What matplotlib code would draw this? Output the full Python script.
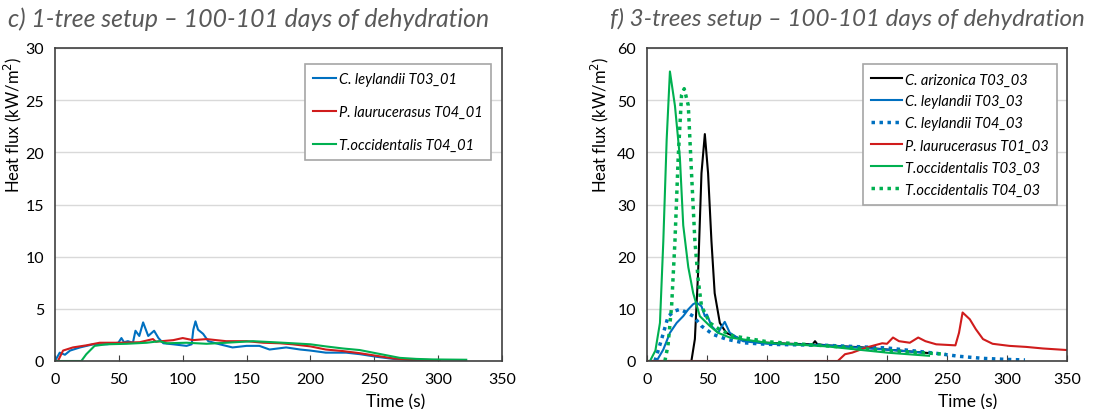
import numpy as np
import matplotlib
matplotlib.use('Agg')
import matplotlib.pyplot as plt

plt.rcParams['font.family'] = ['Lato', 'DejaVu Sans']

BLUE = '#0070c0'
RED = '#d01c1c'
GREEN = '#00b050'
BLACK = '#000000'

# ---- panel c) 1-tree setup
c_ley_t = [0, 3.7, 7.8, 11.8, 19.6, 30, 40.5, 49.6, 52, 54, 57, 61, 63, 66, 69, 73, 77.6, 81, 84.8,
           92.6, 103, 107, 108.3, 110, 112, 116, 120, 129, 139, 150, 160, 168, 181, 192, 200, 212,
           228, 239, 252, 265, 280, 301]
c_ley_v = [0, 0.8, 0.6, 1.0, 1.3, 1.6, 1.6, 1.75, 2.2, 1.8, 1.9, 1.75, 2.9, 2.4, 3.7, 2.4, 2.9, 2.2, 1.7,
           1.6, 1.45, 1.6, 3.0, 3.8, 3.0, 2.6, 1.9, 1.6, 1.3, 1.45, 1.45, 1.1, 1.3, 1.1, 1.0, 0.8,
           0.8, 0.65, 0.4, 0.2, 0.1, 0.06]

c_lau_t = [2.3, 6.3, 14, 24.5, 35, 50.6, 66.3, 76.7, 79, 92.6, 100, 108, 118.6, 134, 150, 163, 176,
           186, 200, 212, 225.5, 238.6, 251.6, 264.8, 278, 291, 301]
c_lau_v = [0, 1.0, 1.3, 1.5, 1.75, 1.75, 1.8, 2.1, 1.85, 2.0, 2.2, 2.0, 2.1, 1.9, 1.9, 1.75, 1.7,
           1.6, 1.4, 1.1, 0.95, 0.75, 0.5, 0.25, 0.12, 0.1, 0.06]

c_occ_t = [0, 20.6, 24.5, 31, 40, 56, 71.8, 82, 87.5, 103, 118.7, 134, 155, 171, 186, 200, 212,
           225.5, 238.6, 249, 259.5, 270, 283, 296, 322]
c_occ_v = [0, 0, 0.65, 1.45, 1.6, 1.65, 1.75, 1.9, 1.7, 1.75, 1.65, 1.75, 1.9, 1.8, 1.7, 1.6, 1.4,
           1.2, 1.05, 0.8, 0.55, 0.3, 0.2, 0.15, 0.12]

# ---- panel f) 3-trees setup
f_ari_t = [0, 37, 39.9, 42.6, 45.4, 48.2, 50.9, 53.7, 56.4, 60.7, 66, 80, 100, 120, 138, 140, 142,
           150, 180, 210, 236]
f_ari_v = [0, 0, 4.2, 17, 36, 43.5, 36, 23, 13, 7.3, 5.4, 4.0, 3.5, 3.3, 3.2, 3.8, 3.2,
           3.0, 2.6, 2.0, 1.5]

f_ley3_t = [8, 13.6, 19.1, 24.7, 30.2, 34.4, 38.5, 41.3, 45.4, 48.2, 50, 53.7, 59.3, 62, 64.8, 69,
            80, 100, 150, 180, 210, 230]
f_ley3_v = [0, 2.2, 5.4, 7.3, 8.6, 9.9, 10.9, 11.2, 10.5, 8.6, 8.9, 6.7, 5.4, 6.5, 7.5, 5.4,
            3.8, 3.3, 3.0, 2.5, 2.0, 1.6]

f_ley4_t = [6.6, 12.2, 17.7, 23.3, 27.4, 33, 38.5, 45.4, 55, 66, 80, 100, 150, 200, 240, 260, 280,
            300, 315]
f_ley4_v = [0, 4.2, 8.6, 9.6, 9.9, 9.3, 8.6, 6.7, 5.1, 4.2, 3.5, 3.2, 3.0, 2.5, 1.5, 0.9, 0.5,
            0.3, 0.2]

f_lau_t = [0, 159, 165, 171, 183, 196, 200, 205, 210, 219, 226, 232, 241, 257, 260, 263, 269, 274,
           280, 288, 302, 316, 330, 350]
f_lau_v = [0, 0, 1.3, 1.6, 2.6, 3.4, 3.3, 4.5, 3.8, 3.5, 4.5, 3.8, 3.2, 3.0, 5.4, 9.3, 8.0, 6.1,
           4.2, 3.3, 2.9, 2.7, 2.4, 2.1]

f_occ3_t = [2.5, 7, 10.8, 13.6, 16.4, 19.1, 23.3, 27.4, 30.2, 34.4, 38.5, 44, 52.4, 59.3, 69, 100,
            150, 200, 235]
f_occ3_v = [0, 2, 7.3, 23, 42.5, 55.5, 48.9, 39, 26, 18, 13, 8.6, 6.7, 5.4, 4.5, 3.5,
            2.8, 1.6, 1.0]

f_occ4_t = [14.9, 17.5, 20.5, 23.3, 26, 28.8, 31, 34.4, 37.1, 39.9, 42.6, 45.4, 52.4, 60.7, 71.8,
            100, 150, 200, 249]
f_occ4_v = [0, 3, 10.5, 23, 39, 51, 52.2, 49, 36, 23, 15.7, 10.5, 7.3, 6, 4.8,
            3.7, 2.9, 2.0, 1.3]

fig = plt.figure(figsize=(10.97, 4.10), dpi=100)
ax1 = fig.add_axes([55 / 1097, 48 / 410, 447 / 1097, 313 / 410])
ax2 = fig.add_axes([647 / 1097, 48 / 410, 420 / 1097, 313 / 410])

lw = 1.5
ax1.plot(c_ley_t, c_ley_v, color=BLUE, lw=lw, label='C. leylandii T03_01')
ax1.plot(c_lau_t, c_lau_v, color=RED, lw=lw, label='P. laurucerasus T04_01')
ax1.plot(c_occ_t, c_occ_v, color=GREEN, lw=lw, label='T.occidentalis T04_01')

ax2.plot(f_ari_t, f_ari_v, color=BLACK, lw=lw, label='C. arizonica T03_03')
ax2.plot(f_ley3_t, f_ley3_v, color=BLUE, lw=lw, label='C. leylandii T03_03')
ax2.plot(f_ley4_t, f_ley4_v, color=BLUE, lw=2.5, ls=(0, (1, 1.3)), label='C. leylandii T04_03')
ax2.plot(f_lau_t, f_lau_v, color=RED, lw=lw, label='P. laurucerasus T01_03')
ax2.plot(f_occ3_t, f_occ3_v, color=GREEN, lw=lw, label='T.occidentalis T03_03')
ax2.plot(f_occ4_t, f_occ4_v, color=GREEN, lw=2.5, ls=(0, (1, 1.3)), label='T.occidentalis T04_03')

for ax, ymax, ystep, lab_x in [(ax1, 30, 5, -0.095), (ax2, 60, 10, -0.112)]:
    ax.set_xlim(0, 350)
    ax.set_ylim(0, ymax)
    ax.set_xticks(np.arange(0, 351, 50))
    ax.set_yticks(np.arange(0, ymax + 1, ystep))
    ax.grid(axis='y', color='#d9d9d9', lw=1)
    ax.set_axisbelow(True)
    ax.tick_params(axis='x', direction='in', length=4, labelsize=11.5, pad=8, color='#404040')
    ax.tick_params(axis='y', length=0, labelsize=11.5, pad=8)
    for s in ax.spines.values():
        s.set_color('#404040')
        s.set_linewidth(1.2)
    ax.set_xlabel('Time (s)', fontsize=12.5)
    ax.xaxis.set_label_coords(0.763, -0.13)
    ax.xaxis.label.set_va('center')
    ax.set_ylabel('Heat flux (kW/m$^2$)', fontsize=12)
    ax.yaxis.set_label_coords(lab_x, 0.757)
    ax.yaxis.label.set_va('center')

leg_kw = dict(loc='upper right', fancybox=False, edgecolor='#a6a6a6', framealpha=1,
              prop={'style': 'italic', 'size': 10.5}, borderpad=0.55)
l1 = ax1.legend(bbox_to_anchor=(0.991, 0.971), handlelength=1.6, labelspacing=1.3,
                handletextpad=0.2, **leg_kw)
l2 = ax2.legend(bbox_to_anchor=(0.993, 0.971), handlelength=2.1, labelspacing=0.55,
                handletextpad=0.2, **leg_kw)
for l in (l1, l2):
    l.get_frame().set_linewidth(1.2)

fig.text(8 / 1097, 1 - 19 / 410, 'c) 1-tree setup \u2013 100-101 days of dehydration',
         fontsize=17.8, style='italic', color='#595959', va='center', ha='left')
fig.text(610 / 1097, 1 - 19 / 410, 'f) 3-trees setup \u2013 100-101 days of dehydration',
         fontsize=17.4, style='italic', color='#595959', va='center', ha='left')

fig.savefig('out.png', dpi=100)
